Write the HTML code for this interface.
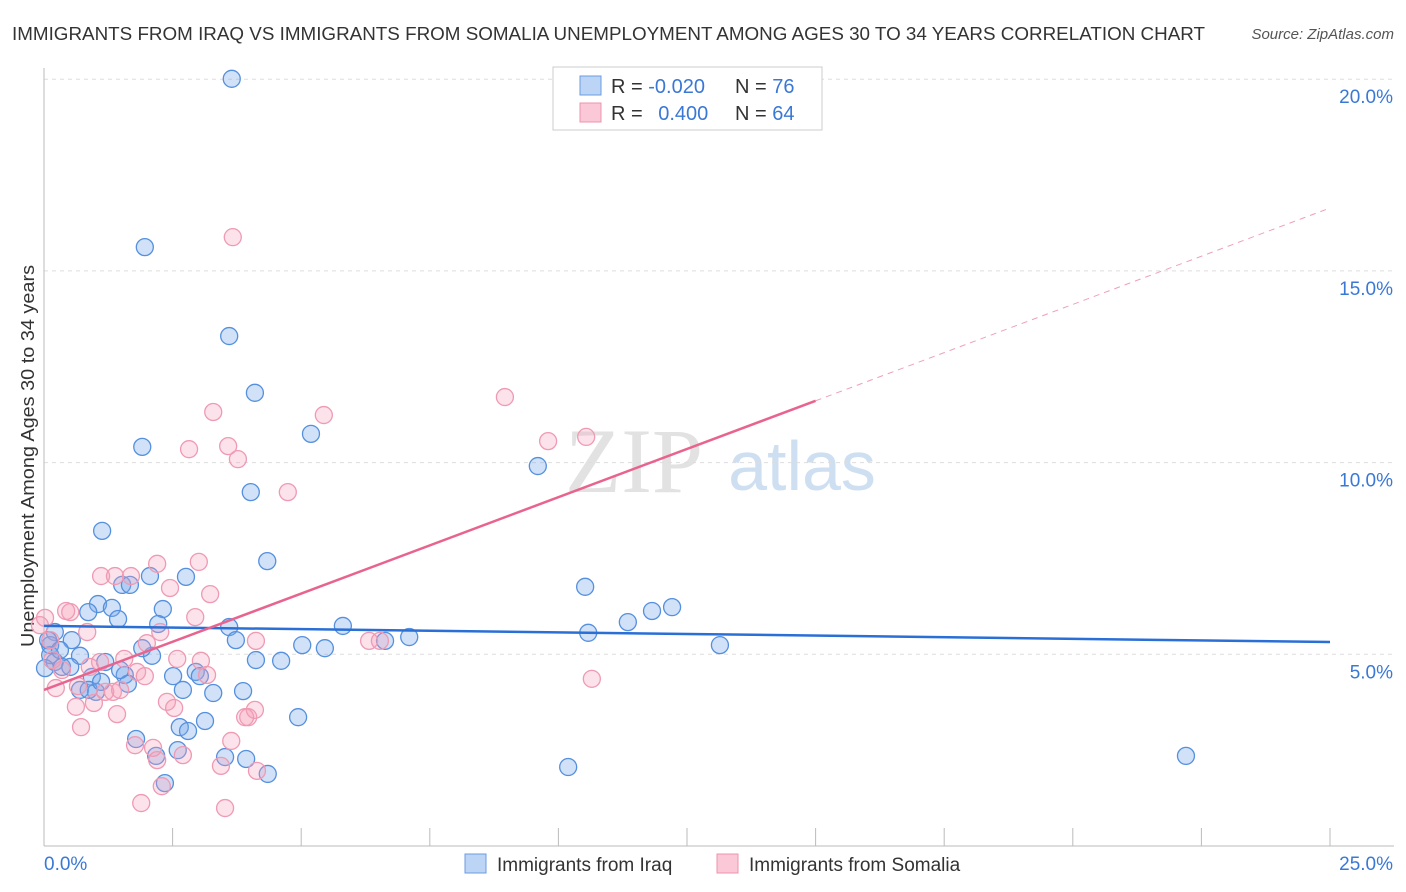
<!DOCTYPE html>
<html><head><meta charset="utf-8"><style>
body{margin:0;background:#fff;font-family:"Liberation Sans",sans-serif}
</style></head><body>
<svg id="c" width="1406" height="892" xmlns="http://www.w3.org/2000/svg" style="display:block">
<text x="12" y="40" font-size="18.5" fill="#333" textLength="1193" lengthAdjust="spacingAndGlyphs">IMMIGRANTS FROM IRAQ VS IMMIGRANTS FROM SOMALIA UNEMPLOYMENT AMONG AGES 30 TO 34 YEARS CORRELATION CHART</text>
<text x="1394" y="39" font-size="15" fill="#555" font-style="italic" text-anchor="end">Source: ZipAtlas.com</text>
<text x="634" y="492" font-size="92" fill="#e2e2e2" font-family="Liberation Serif" text-anchor="middle">ZIP</text>
<text x="802" y="490" font-size="70" fill="#cfdff2" text-anchor="middle">atlas</text>
<text transform="translate(34,456) rotate(-90)" font-size="18" fill="#333" text-anchor="middle" textLength="382" lengthAdjust="spacingAndGlyphs">Unemployment Among Ages 30 to 34 years</text>
<g id="grid"></g><g id="pts"></g><g id="lines"></g>
<g>
<rect x="553" y="67" width="269" height="63" fill="#fff" stroke="#ccc"/>
<rect x="580" y="76" width="21" height="19" fill="#bcd4f5" stroke="#6a9be0"/>
<rect x="580" y="103" width="21" height="19" fill="#fac8d6" stroke="#ee93ad"/>
<text x="611" y="93" font-size="20" fill="#333">R = <tspan fill="#3a78d6">-0.020</tspan></text>
<text x="735" y="93" font-size="20" fill="#333">N = <tspan fill="#3a78d6">76</tspan></text>
<text x="611" y="120" font-size="20" fill="#333">R = <tspan fill="#3a78d6" dx="10">0.400</tspan></text>
<text x="735" y="120" font-size="20" fill="#333">N = <tspan fill="#3a78d6">64</tspan></text>
</g>
<g>
<rect x="465" y="854" width="21" height="19" fill="#bcd4f5" stroke="#6a9be0"/>
<text x="497" y="871" font-size="19" fill="#333">Immigrants from Iraq</text>
<rect x="717" y="854" width="21" height="19" fill="#fac8d6" stroke="#ee93ad"/>
<text x="749" y="871" font-size="19" fill="#333">Immigrants from Somalia</text>
</g>
</svg>
<script>
const xTicks=[0,2.5,5,7.5,10,12.5,15,17.5,20,22.5,25];
const yTicks=[5,10,15,20];
const yTickLabels=["5.0%","10.0%","15.0%","20.0%"];
const iraqPx=[[232,79],[145,247],[229,336],[255,393],[142,447],[311,434],[538,466],[251,492],[102,531],[267,561],[150,576],[186,577],[122,585],[130,585],[585,587],[98,604],[112,608],[163,609],[672,607],[652,611],[88,612],[118,619],[158,624],[628,622],[229,627],[343,626],[588,633],[409,637],[385,641],[302,645],[325,648],[720,645],[55,632],[50,645],[72,640],[152,656],[256,660],[281,661],[80,656],[55,662],[62,667],[70,667],[105,662],[173,676],[196,672],[200,676],[92,677],[125,675],[128,684],[183,690],[213,693],[243,691],[80,690],[96,692],[89,690],[298,717],[205,721],[180,727],[188,731],[136,739],[178,750],[156,756],[225,757],[246,759],[268,774],[568,767],[1186,756],[165,783],[50,655],[48,640],[60,650],[45,668],[101,682],[120,670],[142,648],[236,640]];
const somaliaPx=[[233,237],[505,397],[213,412],[324,415],[548,441],[586,437],[189,449],[228,446],[238,459],[288,492],[157,564],[199,562],[101,576],[115,576],[131,576],[170,588],[210,594],[70,612],[87,632],[45,618],[195,617],[147,643],[256,641],[369,641],[380,641],[177,659],[201,661],[124,659],[137,672],[145,676],[100,662],[56,688],[78,686],[105,692],[113,692],[94,703],[76,707],[167,702],[117,714],[174,708],[207,675],[248,717],[245,717],[255,710],[81,727],[135,745],[153,748],[157,760],[183,755],[231,741],[221,766],[257,771],[162,786],[141,803],[225,808],[592,679],[66,611],[50,640],[52,660],[62,670],[90,667],[120,690],[160,632],[40,625]];
const iraqX=iraqPx.map(p=>+((p[0]-44)/51.44).toFixed(2));
const iraqY=iraqPx.map(p=>+((846-p[1])/38.34).toFixed(2));
const somaliaX=somaliaPx.map(p=>+((p[0]-44)/51.44).toFixed(2));
const somaliaY=somaliaPx.map(p=>+((846-p[1])/38.34).toFixed(2));
const iraqTrend=[5.74,5.32];
const somaliaTrend=[4.07,16.64];
const somaliaSolidEnd=15;
const X=v=>44+v*51.44, Y=v=>846-v*38.34;
const NS="http://www.w3.org/2000/svg";
function mk(t,a,p){const e=document.createElementNS(NS,t);for(const k in a)e.setAttribute(k,a[k]);p.appendChild(e);return e;}
const g=document.getElementById('grid');
yTicks.forEach((v,i)=>{
 const l=mk('line',{x1:44,x2:1394,y1:Y(v),y2:Y(v),stroke:'#ddd','stroke-dasharray':'4,4'},g);
 
 
 const t=mk('text',{x:1393,y:Y(v)+24,'font-size':19,fill:'#3a78d6','text-anchor':'end'},g);
 t.textContent=yTickLabels[i];
 
 
});
const ax=mk('line',{x1:44,x2:1394,y1:846,y2:846,stroke:'#bbb'},g);


const ay=mk('line',{x1:44,x2:44,y1:68,y2:846,stroke:'#bbb'},g);


xTicks.forEach(v=>{const t=mk('line',{x1:X(v),x2:X(v),y1:828,y2:846,stroke:'#bbb'},g);
 
 });
const l0=mk('text',{x:44,y:870,'font-size':19,fill:'#3a78d6'},g);l0.textContent='0.0%';


const l1=mk('text',{x:1393,y:870,'font-size':19,fill:'#3a78d6','text-anchor':'end'},g);l1.textContent='25.0%';


const pg=document.getElementById('pts');
iraqX.forEach((x,i)=>{const c=mk('circle',{cx:X(x),cy:Y(iraqY[i]),r:8.5,fill:'rgba(120,170,235,0.35)',stroke:'#5590de','stroke-width':1.3},pg);
 
 });
somaliaX.forEach((x,i)=>{const c=mk('circle',{cx:X(x),cy:Y(somaliaY[i]),r:8.5,fill:'rgba(245,160,185,0.3)',stroke:'#ef9ab3','stroke-width':1.3},pg);
 
 });
const lg=document.getElementById('lines');
const bt=mk('line',{x1:X(0),y1:Y(iraqTrend[0]),x2:X(25),y2:Y(iraqTrend[1]),stroke:'#2a6fd6','stroke-width':2.5},lg);


const sm=somaliaTrend[0]+(somaliaTrend[1]-somaliaTrend[0])*somaliaSolidEnd/25;
const pt=mk('line',{x1:X(0),y1:Y(somaliaTrend[0]),x2:X(somaliaSolidEnd),y2:Y(sm),stroke:'#e8648f','stroke-width':2.5},lg);


const pd=mk('line',{x1:X(somaliaSolidEnd),y1:Y(sm),x2:X(25),y2:Y(somaliaTrend[1]),stroke:'#eea0b8','stroke-width':1,'stroke-dasharray':'6,5'},lg);


</script>
</body></html>
